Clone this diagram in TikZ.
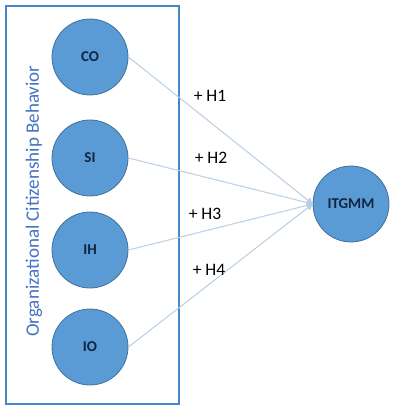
\documentclass[tikz,border=0pt]{standalone}
\usepackage{fontspec}
\setmainfont{Carlito}
\usetikzlibrary{arrows.meta}
\definecolor{cfill}{RGB}{91,155,213}
\definecolor{cedge}{RGB}{65,113,156}
\definecolor{ctext}{RGB}{16,37,63}
\definecolor{boxc}{RGB}{70,135,200}
\definecolor{ocbc}{RGB}{68,114,196}
\definecolor{linec}{RGB}{184,206,228}
\tikzset{
  var/.style={circle, fill=cfill, draw=cedge, line width=0.8pt, minimum size=76pt, inner sep=0pt, text=ctext, font=\fontsize{15}{17}\selectfont\bfseries},
  path/.style={draw=linec, line width=1pt, -{Triangle[length=6pt,width=7pt]}},
  hyp/.style={font=\fontsize{17.5}{20}\selectfont, text=black}
}
\begin{document}
\begin{tikzpicture}[x=1pt,y=-1pt]
\useasboundingbox (0,0) rectangle (409,411);
\node[draw=boxc, line width=1.2pt, minimum width=173pt, minimum height=398pt, inner sep=0pt] (box) at (92.5,205) {};
\node[rotate=90, text=ocbc, font=\fontsize{19}{22}\selectfont] (ocb) at (34,201) {Organizational Citizenship Behavior};
\node[var] (co) at (90,57) {CO};
\node[var] (si) at (90,158) {SI};
\node[var] (ih) at (90,250) {IH};
\node[var] (io) at (90,347) {IO};
\node[var] (it) at (351,204) {ITGMM};
\draw[path] (co.east) -- (it.west);
\draw[path] (si.east) -- (it.west);
\draw[path] (ih.east) -- (it.west);
\draw[path] (io.east) -- (it.west);
\node[hyp] (h1) at (210,96) {+ H1};
\node[hyp] (h2) at (211,158) {+ H2};
\node[hyp] (h3) at (205,214) {+ H3};
\node[hyp] (h4) at (209,270) {+ H4};
\end{tikzpicture}
\end{document}
